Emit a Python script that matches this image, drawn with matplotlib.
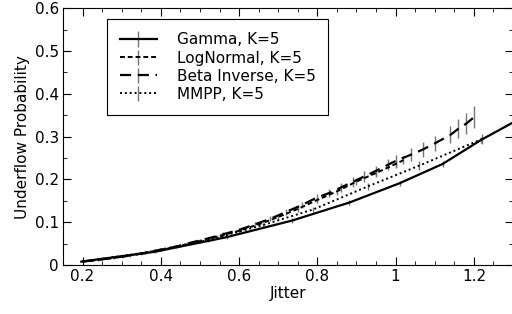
import numpy as np
import matplotlib
matplotlib.use('Agg')
import matplotlib.pyplot as plt
import matplotlib.ticker as ticker

# Gamma, K=5
gamma_x = [0.197, 0.385, 0.568, 0.736, 0.882, 1.01, 1.12, 1.218, 1.31]
gamma_y = [0.008, 0.031, 0.065, 0.104, 0.146, 0.191, 0.236, 0.292, 0.338]
gamma_err = [0.002, 0.003, 0.004, 0.005, 0.006, 0.006, 0.007, 0.008, 0.009]

# LogNormal, K=5
logn_x = [0.20, 0.25, 0.30, 0.35, 0.40, 0.45, 0.50, 0.55, 0.60, 0.65,
          0.70, 0.75, 0.80, 0.85, 0.90, 0.95, 1.00, 1.02]
logn_y = [0.008, 0.013, 0.019, 0.027, 0.035, 0.045, 0.056, 0.068, 0.080, 0.095,
          0.112, 0.131, 0.152, 0.172, 0.195, 0.215, 0.236, 0.245]
logn_err = [0.002, 0.002, 0.003, 0.003, 0.003, 0.004, 0.004, 0.004, 0.005, 0.005,
            0.006, 0.006, 0.007, 0.008, 0.008, 0.009, 0.010, 0.010]

# Beta Inverse, K=5
beta_x = [0.20, 0.24, 0.28, 0.32, 0.36, 0.40, 0.44, 0.48, 0.52, 0.56,
          0.60, 0.64, 0.68, 0.72, 0.76, 0.80, 0.83, 0.86, 0.89, 0.92,
          0.95, 0.98, 1.00, 1.04, 1.07, 1.10, 1.14, 1.16, 1.18, 1.20]
beta_y = [0.008, 0.012, 0.017, 0.022, 0.028, 0.036, 0.043, 0.053, 0.062, 0.072,
          0.082, 0.095, 0.108, 0.124, 0.140, 0.158, 0.168, 0.181, 0.194, 0.207,
          0.220, 0.234, 0.243, 0.258, 0.270, 0.284, 0.304, 0.318, 0.330, 0.345]
beta_err = [0.002, 0.002, 0.002, 0.003, 0.003, 0.003, 0.004, 0.004, 0.004, 0.005,
            0.005, 0.005, 0.006, 0.006, 0.007, 0.008, 0.009, 0.010, 0.011, 0.012,
            0.012, 0.013, 0.014, 0.016, 0.017, 0.018, 0.020, 0.022, 0.024, 0.026]

# MMPP, K=5
mmpp_x = [0.20, 0.36, 0.52, 0.66, 0.79, 0.93, 1.06, 1.22]
mmpp_y = [0.008, 0.029, 0.058, 0.093, 0.130, 0.184, 0.232, 0.294]
mmpp_err = [0.002, 0.003, 0.004, 0.005, 0.006, 0.008, 0.010, 0.012]

fig = plt.figure(figsize=(5.12, 3.14), dpi=100)
ax = fig.add_axes([0.123, 0.156, 0.879, 0.818])

ecol = '0.45'
ax.errorbar(gamma_x, gamma_y, yerr=gamma_err, color='black', lw=1.6,
            ecolor=ecol, elinewidth=1, capsize=0, label='Gamma, K=5')
ax.errorbar(logn_x, logn_y, yerr=logn_err, color='black', lw=1.4, ls=(0, (2.5, 1.5)),
            ecolor=ecol, elinewidth=1, capsize=0, label='LogNormal, K=5')
ax.errorbar(beta_x, beta_y, yerr=beta_err, color='black', lw=1.6, ls=(0, (5, 3)),
            ecolor=ecol, elinewidth=1, capsize=0, label='Beta Inverse, K=5')
ax.errorbar(mmpp_x, mmpp_y, yerr=mmpp_err, color='black', lw=1.4, ls=(0, (1, 1.5)),
            ecolor=ecol, elinewidth=1, capsize=0, label='MMPP, K=5')

ax.set_xlim(0.15, 1.30)
ax.set_ylim(0, 0.6)
ax.xaxis.set_major_locator(ticker.MultipleLocator(0.2))
ax.xaxis.set_minor_locator(ticker.MultipleLocator(0.05))
ax.yaxis.set_major_locator(ticker.MultipleLocator(0.1))
ax.yaxis.set_minor_locator(ticker.MultipleLocator(0.05))
ax.xaxis.set_major_formatter(ticker.FuncFormatter(lambda v, p: '%g' % round(v, 2)))
ax.yaxis.set_major_formatter(ticker.FuncFormatter(lambda v, p: '%g' % round(v, 2)))
ax.tick_params(which='both', direction='in', top=True, right=True, labelsize=11, pad=3)
ax.tick_params(which='major', length=6)
ax.tick_params(which='minor', length=3)

ax.set_xlabel('Jitter', fontsize=11, labelpad=1)
ax.set_ylabel('Underflow Probability', fontsize=11, labelpad=3)

leg = ax.legend(loc='upper left', bbox_to_anchor=(0.098, 0.956), borderaxespad=0,
                fancybox=False, edgecolor='black', framealpha=1, fontsize=11,
                borderpad=0.85, labelspacing=0.2, handlelength=2.4, handletextpad=1.3)
leg.get_frame().set_linewidth(0.8)

fig.savefig('out.png', dpi=100)
